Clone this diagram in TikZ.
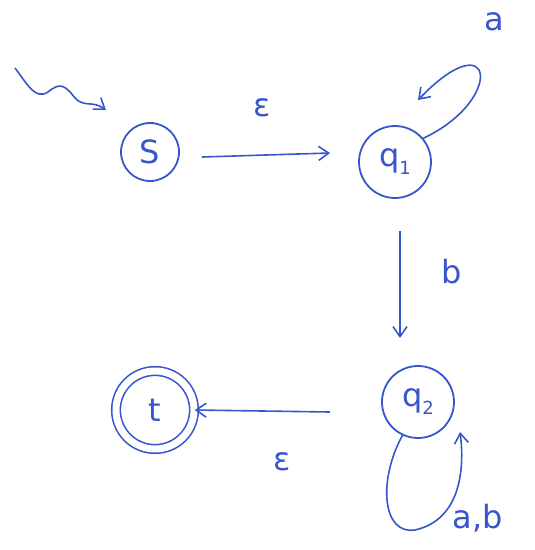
\documentclass[tikz,border=0pt]{standalone}
\usepackage{fontspec}
\setmainfont{DejaVu Sans}
\usetikzlibrary{arrows.meta,decorations.pathmorphing}
\definecolor{ink}{RGB}{55,85,205}
\newcommand{\sbs}[1]{\raisebox{-0.25em}{\fontsize{18}{18}\selectfont #1}}
\begin{document}
\begin{tikzpicture}[x=1pt,y=-1pt,
  st/.style={draw=ink,line width=1.8pt,circle,inner sep=0pt,text=ink,font=\fontsize{32}{32}\selectfont},
  acc/.style={st,double,double distance=7pt,line width=1.6pt},
  tr/.style={draw=ink,line width=1.6pt,-{Straight Barb[length=10pt,width=14pt]}},
  lbl/.style={text=ink,font=\fontsize{32}{32}\selectfont}]
\useasboundingbox (0,0) rectangle (535,550);
\node[st,minimum size=58pt] (s) at (150,152) {S};
\node[st,minimum size=72pt] (q1) at (395,162) {q\sbs{1}};
\node[st,minimum size=72pt] (q2) at (418,402) {q\sbs{2}};
\node[acc,minimum size=78pt] (t) at (155,410) {t};
\coordinate (start) at (15,68);
\draw[tr] (start) .. controls (28,85) and (35,100) .. (48,92) .. controls (60,82) and (65,85) .. (75,98) .. controls (85,108) and (92,100) .. (106,110);
\draw[tr] (s.east)++(22,5) coordinate (a1) -- (330,153) coordinate (a2);
\node[lbl] (e1) at (262,108) {ε};
\draw[tr] (q1.40) .. controls (505,100) and (495,20) .. (418,100);
\node[lbl] (la) at (494,22) {a};
\draw[tr] (q1.south)++(5,32) coordinate (b1) -- (400,338) coordinate (b2);
\node[lbl] (lb) at (452,272) {b};
\draw[tr] (330,412) coordinate (c1) -- (t.east);
\node[lbl] (e2) at (282,462) {ε};
\draw[tr] (q2.245) .. controls (378,480) and (382,535) .. (415,530) .. controls (460,520) and (465,470) .. (460,432);
\node[lbl] (lab) at (478,518) {a,b};
\end{tikzpicture}
\end{document}
